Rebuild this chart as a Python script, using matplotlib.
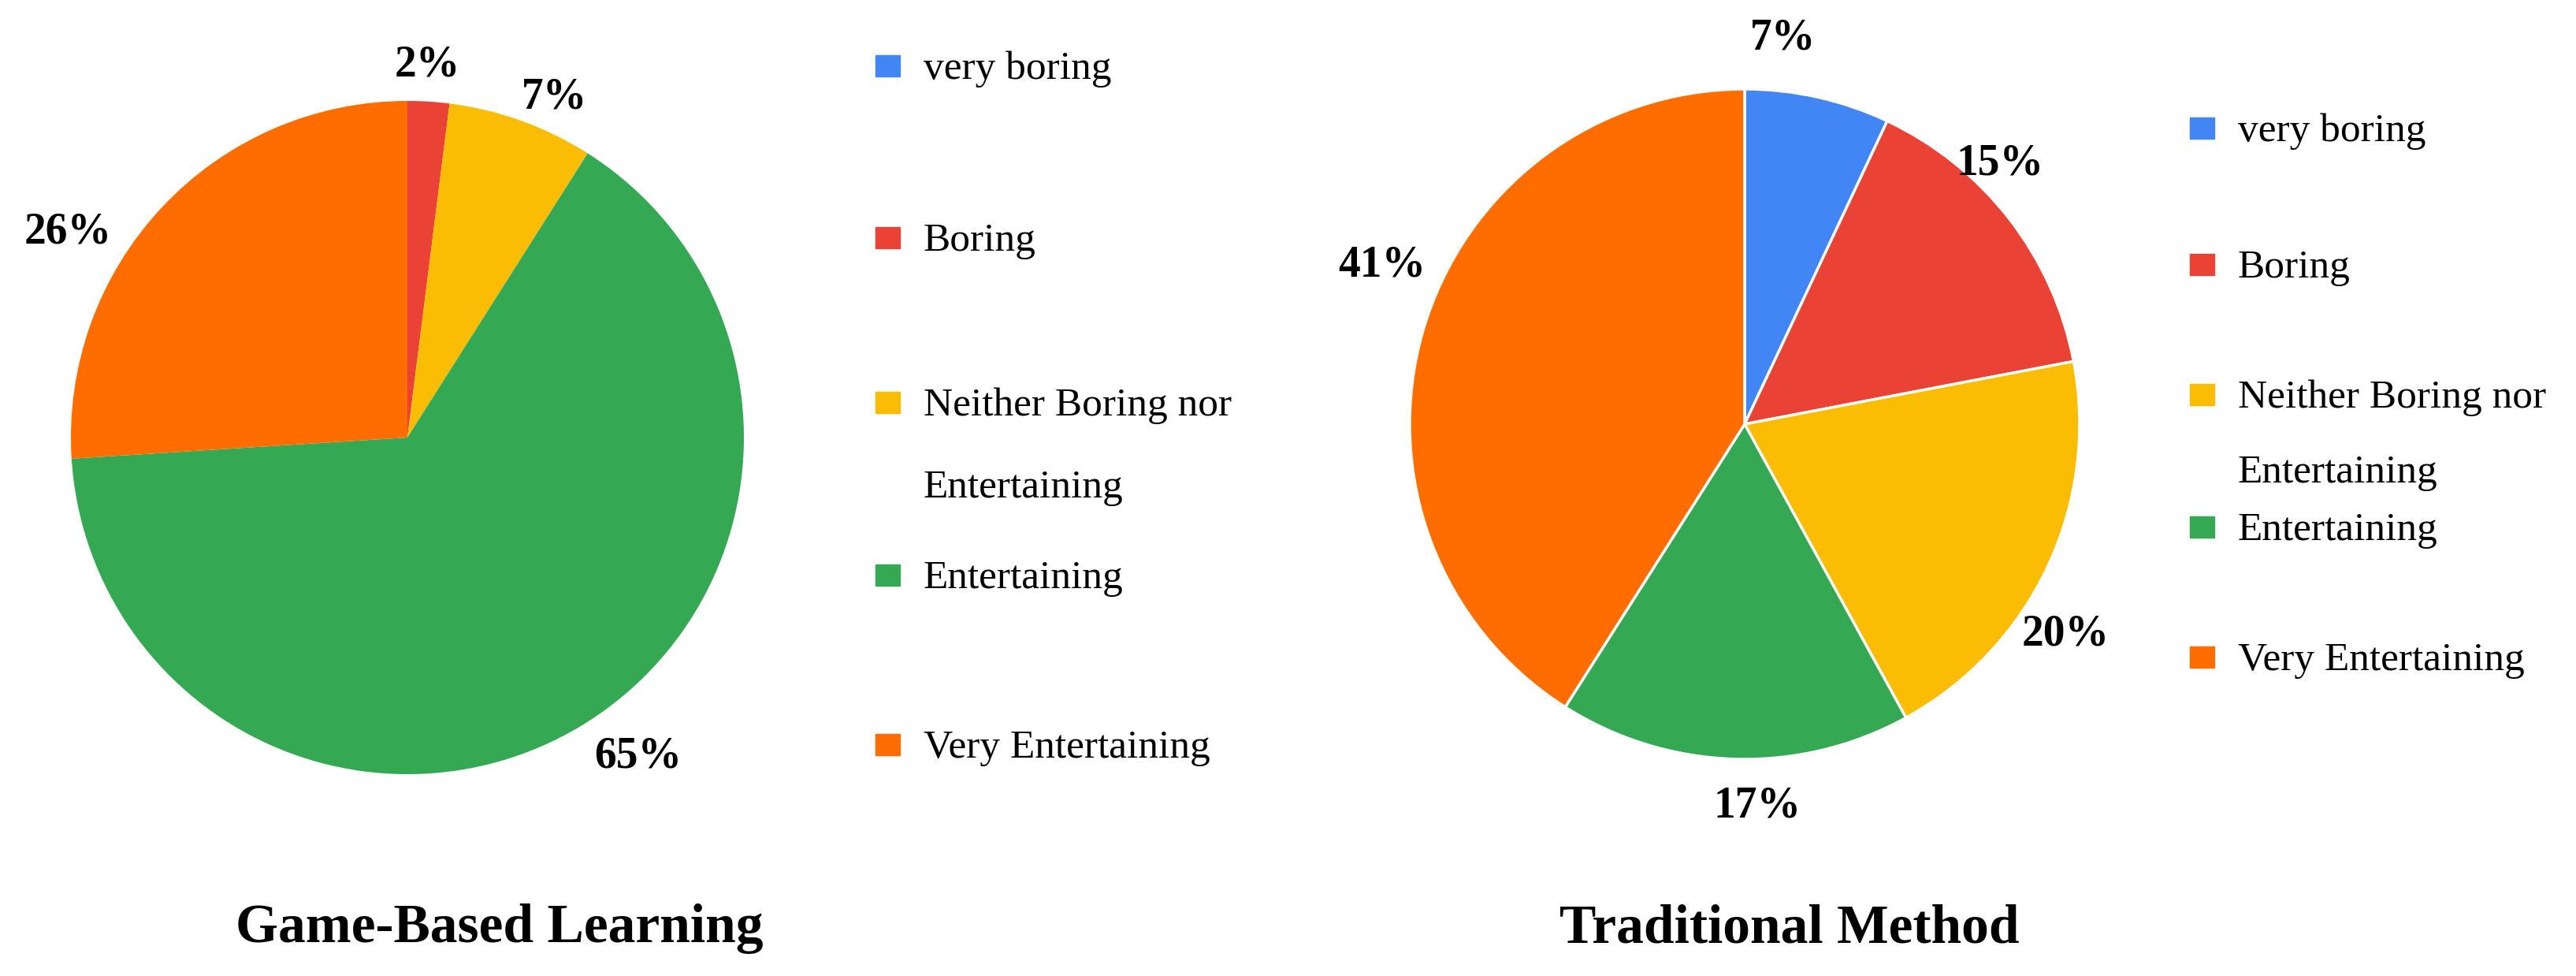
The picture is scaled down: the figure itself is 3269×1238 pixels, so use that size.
import matplotlib
matplotlib.use("Agg")
import matplotlib.pyplot as plt
from matplotlib.patches import Rectangle

plt.rcParams['font.family'] = ['Liberation Serif', 'DejaVu Serif']

categories = ["very boring", "Boring", "Neither Boring nor\nEntertaining",
              "Entertaining", "Very Entertaining"]
colors = ["#4285F4", "#EA4335", "#FBBC04", "#34A853", "#FF6D01"]

game_based = [0, 2, 7, 65, 26]
traditional = [7, 15, 20, 17, 41]

# small label nudges (data units) so the % labels sit where the original put them
game_nudge = [(0, 0), (-0.015, -0.06), (0.04, -0.09), (0.09, 0.06), (-0.156, -0.19)]
trad_nudge = [(-0.142, 0.01), (-0.162, 0.06), (-0.10, -0.13), (0.074, 0.03), (0.04, 0.147)]

W, H = 3269, 1238
fig = plt.figure(figsize=(W / 100, H / 100), dpi=100)


def px_box(cx, cy, r):
    # pixel centre/radius (from top-left) -> figure fraction box
    return [(cx - r) / W, 1 - (cy + r) / H, 2 * r / W, 2 * r / H]


def pct_label(p):
    return f"{p:.0f}%" if p >= 0.5 else ""


def draw_pie(box, values, edge, nudges, title, title_x):
    ax = fig.add_axes(box)
    wedges, texts, autotexts = ax.pie(
        values, colors=colors, startangle=90, counterclock=False,
        autopct=pct_label, pctdistance=1.17,
        wedgeprops=dict(edgecolor=edge, linewidth=2.5 if edge else 0))
    for t, (dx, dy) in zip(autotexts, nudges):
        x, y = t.get_position()
        t.set_position((x + dx, y + dy))
        t.set_fontsize(40)
        t.set_fontweight('bold')
    ax.set_aspect('auto')
    ax.set_xlim(-1, 1)
    ax.set_ylim(-1, 1)
    ax.axis('off')
    fig.text(title_x / W, 1 - 1178 / H, title, ha='center', va='center',
             fontsize=50, fontweight='bold')


def draw_legend(x_sw, x_txt, ys, line_gap):
    for y, label, c in zip(ys, categories, colors):
        fig.add_artist(Rectangle((x_sw / W, 1 - (y + 9) / H), 31 / W, 27 / H,
                                 color=c, transform=fig.transFigure))
        for k, line in enumerate(label.split("\n")):
            fig.text(x_txt / W, 1 - (y + k * line_gap) / H, line,
                     ha='left', va='center', fontsize=37)


draw_pie(px_box(517, 555, 427), game_based, None, game_nudge,
         "Game-Based Learning", 634)
draw_pie(px_box(2214, 538, 425), traditional, "white", trad_nudge,
         "Traditional Method", 2271)

draw_legend(1111, 1172, [88, 306, 515, 734, 949], 104)
draw_legend(2779, 2840, [167, 340, 505, 673, 838], 95)

fig.savefig("out.png", dpi=100, facecolor="white")
